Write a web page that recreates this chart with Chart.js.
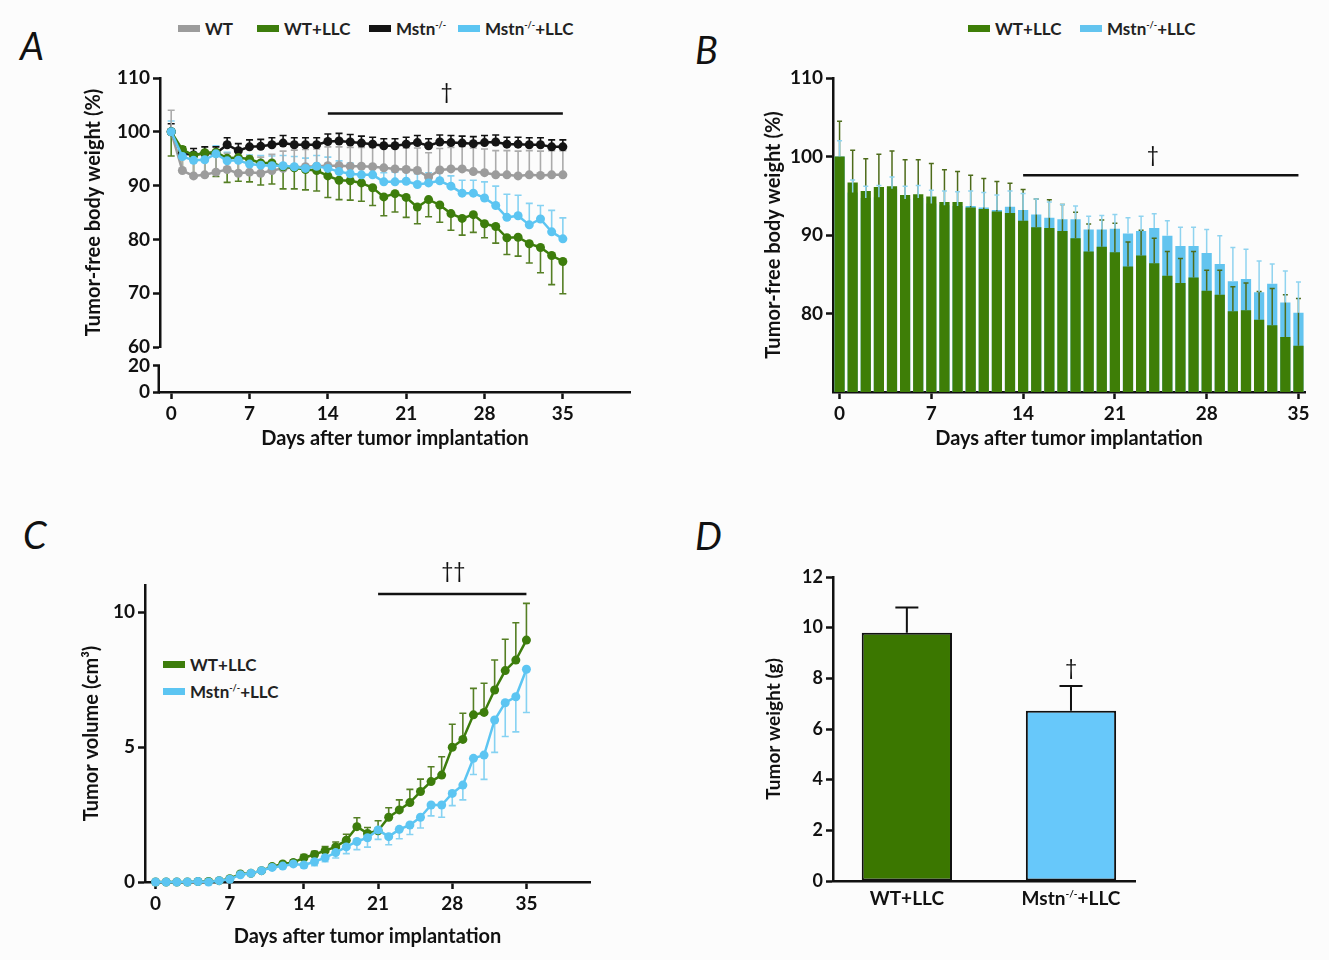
<!DOCTYPE html>
<html>
<head>
<meta charset="utf-8">
<script src="https://cdn.jsdelivr.net/npm/chart.js@4.4.0/dist/chart.umd.min.js"></script>
<style>
  body { margin: 0; background: #fcfcfc; }
  #page { position: relative; width: 1329px; height: 960px; background: #fcfcfc; font-family: Lato, sans-serif; overflow: hidden; }
  .panel { position: absolute; }
  .letter { position: absolute; font: italic 38px Lato, sans-serif; color: #111; line-height: 38px; }
  .leg { position: absolute; font: bold 17px Lato, sans-serif; color: #222; white-space: nowrap; line-height: 16px; }
  .leg i { display: inline-block; width: 22px; height: 7px; margin-right: 5px; vertical-align: 3px; }
  .leg sup { font-size: 9px; line-height: 0; vertical-align: 7px; }
</style>
</head>
<body>
<div id="page">
  <div class="letter" style="left:20px;top:26px">A</div>
  <div class="letter" style="left:695px;top:30px">B</div>
  <div class="letter" style="left:23px;top:515px">C</div>
  <div class="letter" style="left:695px;top:516px">D</div>

  <div class="leg" style="left:178px;top:21px"><i style="background:#9c9c9c"></i>WT</div>
  <div class="leg" style="left:257px;top:21px"><i style="background:#3d7d0c"></i>WT+LLC</div>
  <div class="leg" style="left:369px;top:21px"><i style="background:#141414"></i>Mstn<sup>-/-</sup></div>
  <div class="leg" style="left:458px;top:21px"><i style="background:#5cc5f2"></i>Mstn<sup>-/-</sup>+LLC</div>

  <div class="leg" style="left:968px;top:21px"><i style="background:#3e7e07"></i>WT+LLC</div>
  <div class="leg" style="left:1080px;top:21px"><i style="background:#63c4ef"></i>Mstn<sup>-/-</sup>+LLC</div>

  <div class="leg" style="left:163px;top:657px"><i style="background:#3d7d0c"></i>WT+LLC</div>
  <div class="leg" style="left:163px;top:684px"><i style="background:#5cc5f2"></i>Mstn<sup>-/-</sup>+LLC</div>

  <canvas id="chartA" class="panel" style="left:0;top:50px" width="660" height="410"></canvas>
  <canvas id="chartB" class="panel" style="left:670px;top:50px" width="659" height="410"></canvas>
  <canvas id="chartC" class="panel" style="left:0;top:540px" width="620" height="417"></canvas>
  <canvas id="chartD" class="panel" style="left:670px;top:540px" width="520" height="391"></canvas>
</div>

<script>
// --- data ---
const days = [0, 1, 2, 3, 4, 5, 6, 7, 8, 9, 10, 11, 12, 13, 14, 15, 16, 17,
              18, 19, 20, 21, 22, 23, 24, 25, 26, 27, 28, 29, 30, 31, 32, 33, 34, 35];
const dayTicks = [0, 7, 14, 21, 28, 35];

// body weight (%), panels A and B
const wtVals = [100, 92.8, 91.8, 92.0, 92.5, 93.0, 92.3, 92.5, 92.3, 92.8, 93.2, 93.4, 93.5, 93.6, 93.7, 93.7,
                93.6, 93.6, 93.5, 93.3, 93.1, 93.0, 92.8, 91.6, 92.9, 93.1, 93.1, 92.6, 92.4, 92.0, 92.0, 91.8, 92.0, 91.9, 92.0, 92.0];
const wtErr = [4.0, 2.5, 2.5, 2.8, 3.0, 3.0, 3.0, 3.0, 3.0, 3.0, 3.2, 3.2, 3.2, 3.2, 3.5, 3.5,
               3.5, 3.5, 3.6, 3.8, 4.0, 4.0, 4.2, 4.5, 4.0, 4.0, 4.2, 4.4, 4.4, 4.5, 4.5, 4.6, 4.5, 4.5, 4.5, 4.5];
const wtLlcVals = [100, 96.7, 95.6, 96.1, 96.2, 95.1, 95.2, 94.9, 94.2, 94.2, 93.5, 93.3, 93.0, 92.8, 91.8, 91.0,
                   90.9, 90.5, 89.6, 87.9, 88.5, 87.8, 86.0, 87.4, 86.4, 84.8, 83.9, 84.6, 82.9, 82.4, 80.3, 80.4, 79.2, 78.5, 77.0, 75.9];
const wtLlcErr = [4.5, 4.1, 4.1, 4.2, 4.5, 4.5, 4.4, 4.2, 4.1, 3.9, 4.1, 3.9, 3.8, 3.8, 4.0, 3.6,
                  3.6, 3.4, 3.3, 3.5, 3.4, 3.7, 3.1, 3.2, 3.2, 3.1, 3.1, 3.3, 2.6, 3.1, 3.1, 3.5, 3.6, 4.7, 5.4, 6.0];
const mstnVals = [100, 96.0, 95.7, 96.0, 96.0, 97.6, 96.5, 97.2, 97.3, 97.6, 97.9, 97.6, 97.6, 97.6, 98.2, 98.3,
                  98.1, 97.9, 97.7, 97.4, 97.4, 97.7, 98.0, 97.4, 98.1, 98.0, 97.9, 97.8, 98.0, 98.1, 97.7, 97.7, 97.6, 97.6, 97.2, 97.2];
const mstnErr = [1.5, 1.2, 1.2, 1.2, 1.2, 1.3, 1.3, 1.3, 1.3, 1.3, 1.4, 1.3, 1.3, 1.3, 1.4, 1.4,
                 1.4, 1.3, 1.3, 1.3, 1.3, 1.3, 1.3, 1.3, 1.3, 1.3, 1.3, 1.3, 1.3, 1.3, 1.3, 1.3, 1.3, 1.3, 1.3, 1.3];
const mstnLlcVals = [100, 95.4, 94.7, 94.8, 95.9, 94.6, 94.7, 94.0, 93.8, 93.7, 93.7, 93.5, 93.2, 93.6, 93.2, 92.6,
                     92.2, 92.0, 92.0, 90.7, 90.7, 90.8, 90.2, 90.5, 90.9, 89.9, 88.6, 88.6, 87.7, 86.3, 84.1, 84.4, 82.7, 83.8, 81.4, 80.1];
const mstnLlcErr = [2.0, 1.6, 1.5, 1.5, 1.5, 1.6, 1.6, 1.7, 1.8, 1.8, 1.9, 1.9, 1.9, 2.0, 2.1, 2.0,
                    2.0, 1.9, 1.7, 1.7, 1.8, 1.8, 2.0, 1.9, 1.8, 1.9, 2.4, 2.4, 3.0, 3.6, 4.3, 3.8, 4.0, 2.5, 4.0, 3.9];

// tumor volume (cm3), panel C
const volWtLlc = [0, 0, 0, 0, 0.02, 0.02, 0.05, 0.12, 0.3, 0.32, 0.42, 0.57, 0.67, 0.72, 0.9, 1.02,
                  1.16, 1.3, 1.55, 2.05, 1.8, 1.9, 2.4, 2.67, 2.94, 3.35, 3.72, 3.96, 4.99, 5.28, 6.19, 6.28, 7.11, 7.83, 8.22, 8.96];
const volWtLlcErr = [0, 0, 0, 0, 0, 0, 0, 0.03, 0.05, 0.05, 0.06, 0.08, 0.08, 0.1, 0.12, 0.12,
                     0.15, 0.18, 0.22, 0.33, 0.22, 0.37, 0.35, 0.37, 0.49, 0.46, 0.55, 0.68, 0.85, 0.97, 0.98, 1.08, 1.11, 1.16, 1.38, 1.36];
const volMstnLlc = [0, 0, 0, 0, 0.02, 0, 0.05, 0.1, 0.27, 0.32, 0.42, 0.54, 0.59, 0.67, 0.63, 0.75,
                    0.9, 1.09, 1.3, 1.5, 1.64, 1.93, 1.68, 1.95, 2.11, 2.4, 2.85, 2.85, 3.28, 3.59, 4.58, 4.7, 6.0, 6.64, 6.86, 7.88];
const volMstnLlcErr = [0, 0, 0, 0, 0, 0, 0, 0, 0.02, 0.03, 0.04, 0.05, 0.06, 0.08, 0.1, 0.15,
                       0.15, 0.2, 0.25, 0.3, 0.35, 0.35, 0.3, 0.35, 0.35, 0.4, 0.4, 0.45, 0.45, 0.55, 0.6, 0.9, 1.2, 1.25, 1.3, 1.6];

// tumor weight (g), panel D
const tumorGroups = ['WT+LLC', 'Mstn^{-/-}+LLC'];
const tumorWeight = [9.8, 6.72];
const tumorWeightErr = [1.0, 0.98];

const yTicksA = [60, 70, 80, 90, 100, 110];
const yTicksBreak = [0, 20];
const yTicksB = [80, 90, 100, 110];
const yTicksC = [0, 5, 10];
const yTicksD = [0, 2, 4, 6, 8, 10, 12];

// --- colours ---
const col = {
  wt: '#9c9c9c', wtLlc: '#3d7d0c', mstn: '#141414', mstnLlc: '#5cc5f2',
  barGreen: '#3e7e07', barBlue: '#63c4ef', dGreen: '#3b7700', dBlue: '#67c8fa'
};

Chart.defaults.font.family = 'Lato, sans-serif';
Chart.defaults.color = '#111';
Chart.defaults.animation = false;
Chart.defaults.plugins.legend.display = false;
Chart.defaults.plugins.tooltip.enabled = false;

// --- helpers ---
const pts = (vals) => vals.map((v, i) => ({ x: days[i], y: v }));
const fixTicks = (arr) => (s) => { s.ticks = arr.map(v => ({ value: v })); };
const border = { display: true, color: '#111', width: 2.5 };
const grid = { display: true, drawOnChartArea: false, drawTicks: true, tickLength: 7, tickWidth: 2.5, tickColor: '#111', offset: false };
const tickFont = (size) => ({ color: '#111', font: { size: size, weight: 'bold' }, padding: 3 });
const title = (text, size) => ({ display: true, text: text, color: '#111', font: { size: size, weight: 'bold' }, padding: { top: 4, bottom: 4 } });

// error bars, read from dataset.errors / dataset.errDir
const drawErrors = (chart, opts) => {
  const ctx = chart.ctx;
  chart.data.datasets.forEach((ds, i) => {
    if (!ds.errors) return;
    const meta = chart.getDatasetMeta(i);
    const ys = chart.scales[meta.yAxisID];
    ctx.save();
    ctx.strokeStyle = ds.errColor;
    ctx.lineWidth = opts.width;
    meta.data.forEach((el, j) => {
      const e = ds.errors[j];
      if (!e) return;
      const v = ds.data[j].y;
      const y0 = ys.getPixelForValue(v);
      const y1 = ys.getPixelForValue(v + ds.errDir * e);
      ctx.beginPath();
      ctx.moveTo(el.x, y0);
      ctx.lineTo(el.x, y1);
      ctx.moveTo(el.x - opts.cap, y1);
      ctx.lineTo(el.x + opts.cap, y1);
      ctx.stroke();
    });
    ctx.restore();
  });
};
const errorBars = {
  id: 'errorBars',
  beforeDatasetsDraw(chart, args, opts) { if (!opts.after) drawErrors(chart, opts); },
  afterDatasetsDraw(chart, args, opts) { if (opts.after) drawErrors(chart, opts); }
};

// significance bar and dagger marks
const sigMarks = {
  id: 'sigMarks',
  afterDraw(chart, args, opts) {
    const ctx = chart.ctx;
    const xs = chart.scales.x, ys = chart.scales.y;
    opts.items.forEach(it => {
      ctx.save();
      if (it.from !== undefined) {
        const y = ys.getPixelForValue(it.y);
        ctx.strokeStyle = '#111';
        ctx.lineWidth = 2.5;
        ctx.beginPath();
        ctx.moveTo(xs.getPixelForValue(it.from), y);
        ctx.lineTo(xs.getPixelForValue(it.to), y);
        ctx.stroke();
      }
      ctx.fillStyle = '#111';
      ctx.font = '21px Lato, sans-serif';
      ctx.textAlign = 'center';
      ctx.textBaseline = 'middle';
      ctx.fillText(it.text, xs.getPixelForValue(it.textX), ys.getPixelForValue(it.textY));
      ctx.restore();
    });
  }
};

// lower segment of the broken y axis in panel A
const axisBreak = {
  id: 'axisBreak',
  afterDraw(chart) {
    const s = chart.scales.y2, ctx = chart.ctx;
    ctx.save();
    ctx.strokeStyle = '#111';
    ctx.lineWidth = 2.5;
    ctx.beginPath();
    ctx.moveTo(s.right - 1.25, s.getPixelForValue(20));
    ctx.lineTo(s.right - 1.25, s.bottom + 1.25);
    ctx.stroke();
    ctx.restore();
  }
};

// text with ^{superscript} parts
function drawRich(ctx, text, cx, baseline, size) {
  const parts = text.split(/\^\{|\}/);
  const normal = 'bold ' + size + 'px Lato, sans-serif';
  const small = 'bold ' + Math.round(size * 0.55) + 'px Lato, sans-serif';
  let w = 0;
  parts.forEach((p, k) => { ctx.font = k % 2 ? small : normal; w += ctx.measureText(p).width; });
  let x = cx - w / 2;
  ctx.save();
  ctx.fillStyle = '#111';
  ctx.textAlign = 'left';
  ctx.textBaseline = 'alphabetic';
  parts.forEach((p, k) => {
    ctx.font = k % 2 ? small : normal;
    ctx.fillText(p, x, k % 2 ? baseline - size * 0.42 : baseline);
    x += ctx.measureText(p).width;
  });
  ctx.restore();
}
const richTicks = {
  id: 'richTicks',
  afterDraw(chart, args, opts) {
    const xs = chart.scales.x;
    opts.labels.forEach((lab, i) => drawRich(chart.ctx, lab, xs.getPixelForValue(i), xs.top + opts.offset, opts.size));
  }
};

const lineSet = (label, vals, errs, dir, color, errColor, order) => ({
  label: label, data: pts(vals), borderColor: color, backgroundColor: color,
  borderWidth: 2.5, pointRadius: 4.5, pointHoverRadius: 4.5, pointBorderWidth: 0,
  tension: 0, clip: false, order: order, yAxisID: 'y',
  errors: errs, errDir: dir, errColor: errColor
});

// --- A: body weight, lines ---
new Chart(document.getElementById('chartA'), {
  type: 'line',
  data: {
    datasets: [
      lineSet('Mstn-/-+LLC', mstnLlcVals, mstnLlcErr, 1, col.mstnLlc, '#86d2f2', 1),
      lineSet('WT+LLC', wtLlcVals, wtLlcErr, -1, col.wtLlc, '#557f24', 2),
      lineSet('Mstn-/-', mstnVals, mstnErr, 1, col.mstn, '#111', 3),
      lineSet('WT', wtVals, wtErr, 1, col.wt, '#ababab', 4)
    ]
  },
  options: {
    responsive: false,
    devicePixelRatio: 1,
    layout: { padding: { left: 78, top: 28, right: 30, bottom: 5 } },
    scales: {
      x: {
        type: 'linear', min: -1, max: 41,
        border: border, grid: grid, ticks: tickFont(19),
        afterBuildTicks: fixTicks(dayTicks),
        afterFit: (s) => { s.height = 63; },
        title: title('Days after tumor implantation', 20)
      },
      // left boxes are laid out in reverse, so the lower segment comes first
      y2: {
        type: 'linear', position: 'left', stack: 'a', stackWeight: 45, min: 0, max: 34.6,
        border: { display: false }, grid: grid, ticks: tickFont(19),
        afterBuildTicks: fixTicks(yTicksBreak),
        afterFit: (s) => { s.width = 82; }
      },
      y: {
        type: 'linear', position: 'left', stack: 'a', stackWeight: 269, min: 60, max: 110,
        border: border, grid: grid, ticks: tickFont(19),
        afterBuildTicks: fixTicks(yTicksA),
        afterFit: (s) => { s.width = 82; },
        title: title('Tumor-free body weight (%)', 20)
      }
    },
    plugins: {
      errorBars: { after: false, width: 1.6, cap: 3.5 },
      sigMarks: { items: [{ from: 14, to: 35, y: 103.4, text: '†', textX: 24.6, textY: 107.3 }] }
    }
  },
  plugins: [errorBars, sigMarks, axisBreak]
});

// --- B: body weight, overlapping bars ---
new Chart(document.getElementById('chartB'), {
  type: 'bar',
  data: {
    datasets: [
      { label: 'WT+LLC', data: pts(wtLlcVals), backgroundColor: col.barGreen, grouped: false,
        barPercentage: 0.78, categoryPercentage: 1, order: 1,
        errors: wtLlcErr, errDir: 1, errColor: '#4d6b1a' },
      { label: 'Mstn-/-+LLC', data: pts(mstnLlcVals), backgroundColor: col.barBlue, grouped: false,
        barPercentage: 0.78, categoryPercentage: 1, order: 2,
        errors: mstnLlcErr, errDir: 1, errColor: '#8fd3ef' }
    ]
  },
  options: {
    responsive: false,
    devicePixelRatio: 1,
    layout: { padding: { left: 88, top: 28, right: 24, bottom: 5 } },
    scales: {
      x: {
        type: 'linear', min: -0.5, max: 35.5, offset: false,
        border: border, grid: grid, ticks: tickFont(19),
        afterBuildTicks: fixTicks(dayTicks),
        afterFit: (s) => { s.height = 63; },
        title: title('Days after tumor implantation', 20)
      },
      y: {
        type: 'linear', min: 70, max: 110,
        border: border, grid: grid, ticks: tickFont(19),
        afterBuildTicks: fixTicks(yTicksB),
        afterFit: (s) => { s.width = 75; },
        title: title('Tumor-free body weight (%)', 20)
      }
    },
    plugins: {
      errorBars: { after: true, width: 1.5, cap: 2.5 },
      sigMarks: { items: [{ from: 14, to: 35, y: 97.6, text: '†', textX: 23.9, textY: 100.1 }] }
    }
  },
  plugins: [errorBars, sigMarks]
});

// --- C: tumor volume, lines ---
new Chart(document.getElementById('chartC'), {
  type: 'line',
  data: {
    datasets: [
      lineSet('Mstn-/-+LLC', volMstnLlc, volMstnLlcErr, -1, col.mstnLlc, '#86d2f2', 1),
      lineSet('WT+LLC', volWtLlc, volWtLlcErr, 1, col.wtLlc, '#557f24', 2)
    ]
  },
  options: {
    responsive: false,
    devicePixelRatio: 1,
    layout: { padding: { left: 76, top: 45, right: 30, bottom: 4 } },
    scales: {
      x: {
        type: 'linear', min: -1, max: 41,
        border: border, grid: grid, ticks: tickFont(19),
        afterBuildTicks: fixTicks(dayTicks),
        afterFit: (s) => { s.height = 71; },
        title: title('Days after tumor implantation', 20)
      },
      y: {
        type: 'linear', min: 0, max: 11,
        border: border, grid: grid, ticks: tickFont(19),
        afterBuildTicks: fixTicks(yTicksC),
        afterFit: (s) => { s.width = 69; },
        title: title('Tumor volume (cm³)', 20)
      }
    },
    plugins: {
      errorBars: { after: false, width: 1.6, cap: 3.5 },
      sigMarks: { items: [{ from: 21, to: 35, y: 10.67, text: '††', textX: 28.1, textY: 11.5 }] }
    }
  },
  plugins: [errorBars, sigMarks]
});

// --- D: tumor weight, bars ---
new Chart(document.getElementById('chartD'), {
  type: 'bar',
  data: {
    datasets: [{
      label: 'Tumor weight',
      data: tumorWeight.map((v, i) => ({ x: i, y: v })),
      backgroundColor: [col.dGreen, col.dBlue],
      borderColor: '#111', borderWidth: 2, borderSkipped: false,
      barPercentage: 0.55, categoryPercentage: 1,
      errors: tumorWeightErr, errDir: 1, errColor: '#111'
    }]
  },
  options: {
    responsive: false,
    devicePixelRatio: 1,
    layout: { padding: { left: 88, top: 37, right: 55, bottom: 10 } },
    scales: {
      x: {
        type: 'linear', min: -0.45, max: 1.39, offset: false,
        border: border, grid: { display: false }, ticks: { display: false },
        afterBuildTicks: fixTicks([0, 1]),
        afterFit: (s) => { s.height = 40; }
      },
      y: {
        type: 'linear', min: 0, max: 12,
        border: border, grid: grid, ticks: tickFont(18),
        afterBuildTicks: fixTicks(yTicksD),
        afterFit: (s) => { s.width = 75; },
        title: title('Tumor weight (g)', 19)
      }
    },
    plugins: {
      errorBars: { after: true, width: 2, cap: 11.5 },
      sigMarks: { items: [{ text: '†', textX: 1, textY: 8.4 }] },
      richTicks: { labels: tumorGroups, offset: 24, size: 19 }
    }
  },
  plugins: [errorBars, sigMarks, richTicks]
});
</script>
</body>
</html>
